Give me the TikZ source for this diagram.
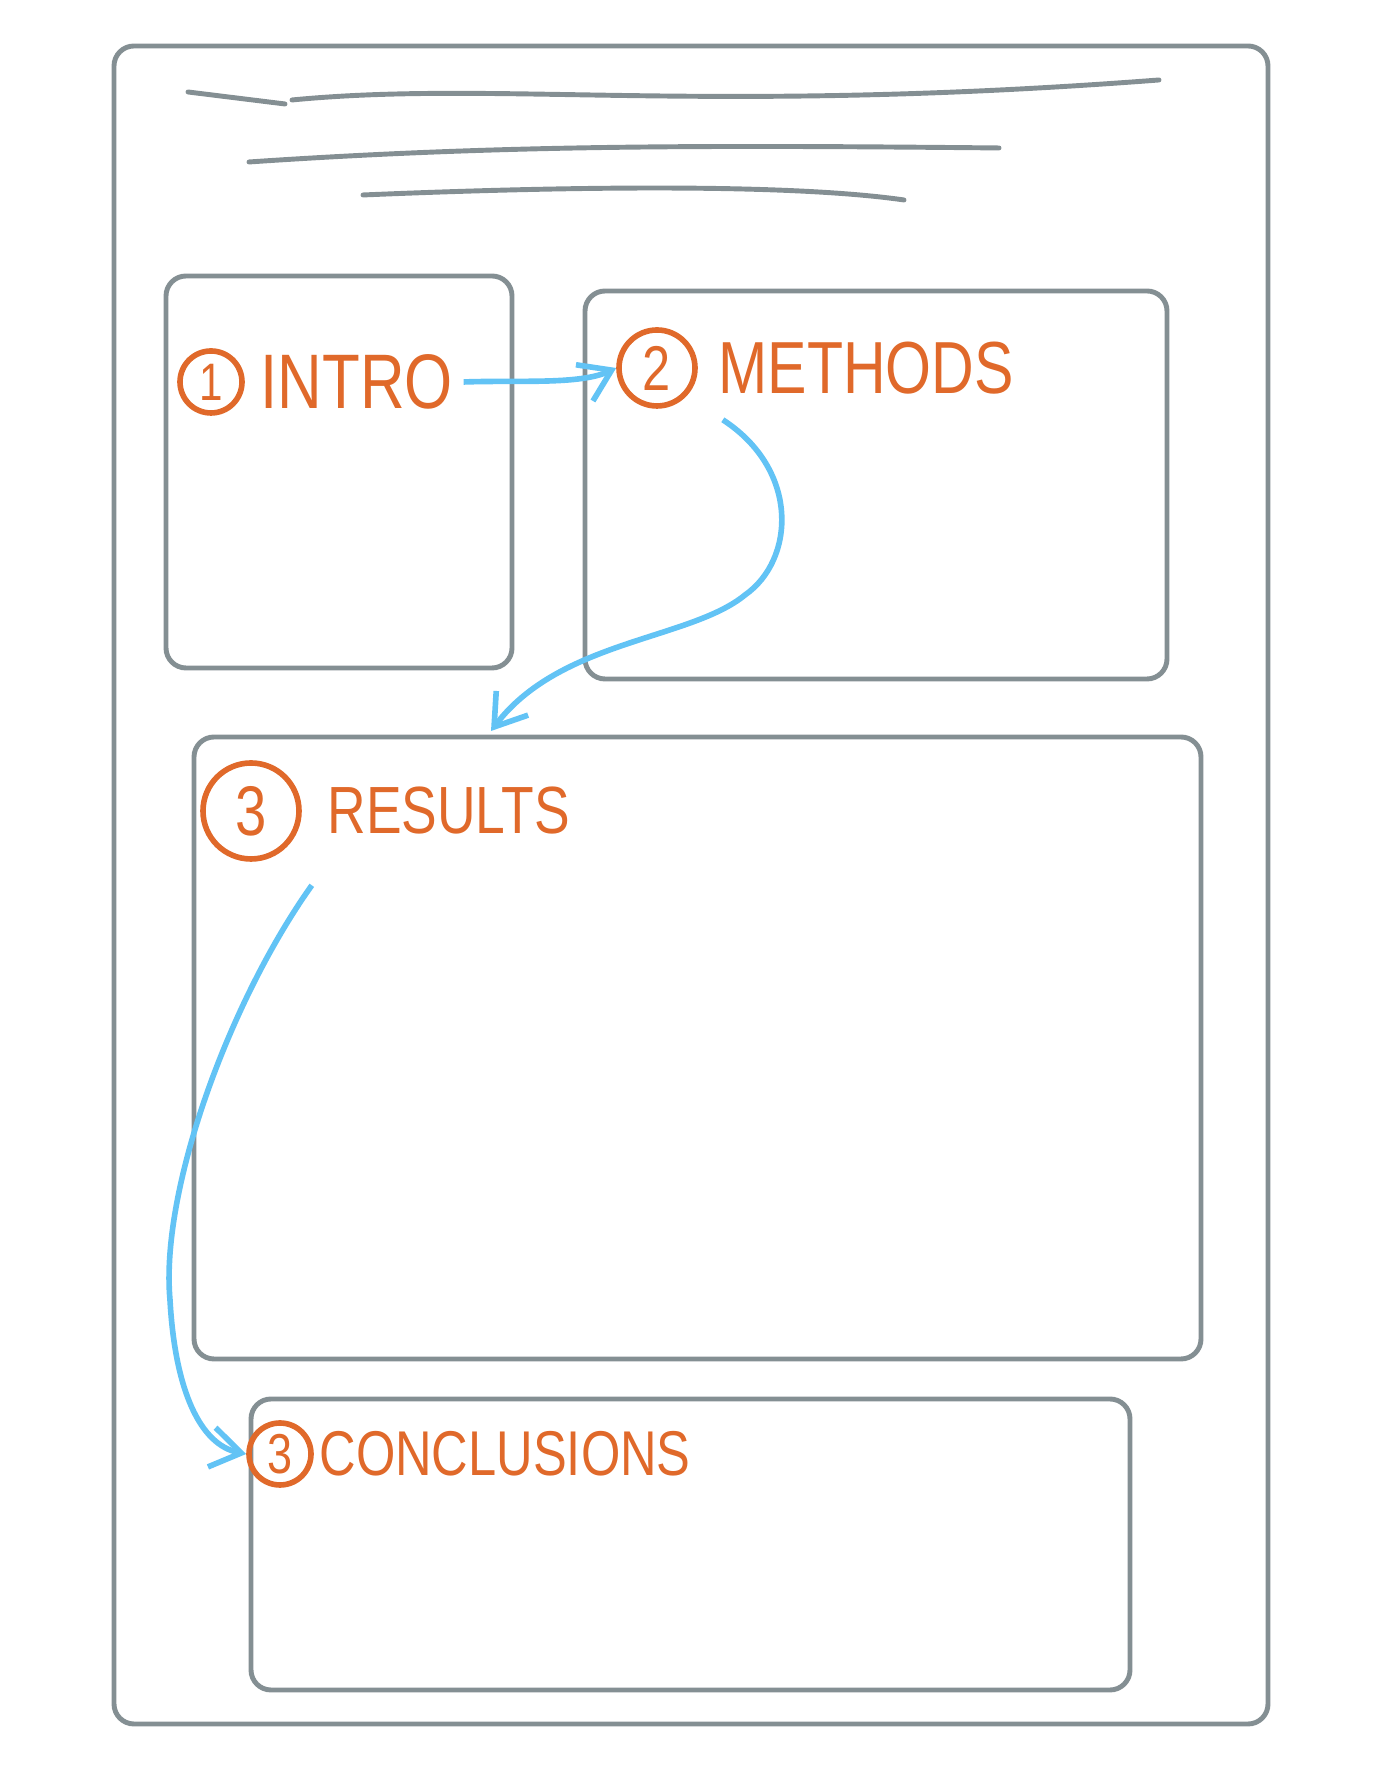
\documentclass[tikz,border=0pt]{standalone}
\usepackage{fontspec}
\usepackage{xcolor}
\usepackage{tikz}
\usetikzlibrary{positioning,arrows.meta}

\newfontfamily\sketchfont[FakeStretch=0.8]{Liberation Sans}
\definecolor{pencil}{HTML}{848F93}
\definecolor{marker}{HTML}{E0692A}
\definecolor{sky}{HTML}{62C3F5}

\begin{document}
\begin{tikzpicture}[
        box/.style={
            draw=pencil,
            line width=1.4pt,
            rounded corners=2mm,
            rectangle
        },
        num/.style={
            draw=marker,
            circle,
            line width=1.6pt,
            inner sep=0pt,
            text=marker
        },
        heading/.style={
            text=marker,
            inner sep=0pt,
            anchor=west
        },
        arrow/.style={
            -{Straight Barb[length=3mm,width=4mm]},
            draw=sky,
            line width=1.6pt
        },
        scribble/.style={
            draw=pencil,
            line width=1.4pt,
            line cap=round
        }
    ]

    \useasboundingbox (0,0) rectangle (13.76,17.9);

    % page and sections
    \node[box, minimum width=11.54cm, minimum height=16.78cm] (page) at (6.91, 9.05) {};
    \node[box, minimum width=3.46cm, minimum height=3.92cm] (intro) at (3.39, 13.18) {};
    \node[box, minimum width=5.82cm, minimum height=3.88cm] (methods) at (8.76, 13.05) {};
    \node[box, minimum width=10.07cm, minimum height=6.22cm] (results) at (6.975, 7.42) {};
    \node[box, minimum width=8.79cm, minimum height=2.91cm] (conclusions) at (6.905, 2.455) {};

    % title lines
    \draw[scribble] (1.88,16.98) -- (2.85,16.86);
    \draw[scribble] (2.92,16.90) .. controls (5,17.1) and (7,16.75) .. (11.59,17.10);
    \draw[scribble] (2.49,16.28) .. controls (5,16.45) and (7,16.45) .. (9.99,16.42);
    \draw[scribble] (3.63,15.95) .. controls (6,16.05) and (8,16.05) .. (9.04,15.90);

    % headings
    \node[num, minimum size=0.62cm, font=\sketchfont\fontsize{15}{15}\selectfont] (introNum) at (2.11, 14.08) {1};
    \node[heading, right=1.5mm of introNum, font=\sketchfont\fontsize{22}{22}\selectfont] (introTxt) {INTRO};
    \node[num, minimum size=0.76cm, font=\sketchfont\fontsize{18}{18}\selectfont] (methodsNum) at (6.57, 14.22) {2};
    \node[heading, right=2mm of methodsNum, font=\sketchfont\fontsize{21}{21}\selectfont] (methodsTxt) {METHODS};
    \node[num, minimum size=0.96cm, font=\sketchfont\fontsize{20}{20}\selectfont] (resultsNum) at (2.51, 9.79) {3};
    \node[heading, right=2.5mm of resultsNum, font=\sketchfont\fontsize{19}{19}\selectfont] (resultsTxt) {RESULTS};
    \node[num, minimum size=0.62cm, font=\sketchfont\fontsize{16}{16}\selectfont] (conclusionsNum) at (2.80, 3.36) {3};
    \node[heading, right=0.5mm of conclusionsNum, font=\sketchfont\fontsize{18}{18}\selectfont] (conclusionsTxt) {CONCLUSIONS};

    \coordinate (resultsIn) at (4.91, 10.59);

    % reading order
    \draw[arrow] (introTxt.east) ++(0.1,0) .. controls (5.2,14.1) and (5.8,14.05) .. (methodsNum.west);
    \draw[arrow] (methodsTxt.south west) ++(0.05,-0.25) .. controls (8.0,13.2) and (7.95,12.3) .. (7.45,11.95)
        .. controls (6.9,11.5) and (5.6,11.5) .. (resultsIn);
    \draw[arrow] (resultsTxt.south west) ++(-0.15,-0.5) .. controls (2.3,7.9) and (1.6,6.0) .. (1.7,4.9)
        .. controls (1.75,4.0) and (2.0,3.45) .. (conclusionsNum.west);

\end{tikzpicture}
\end{document}
